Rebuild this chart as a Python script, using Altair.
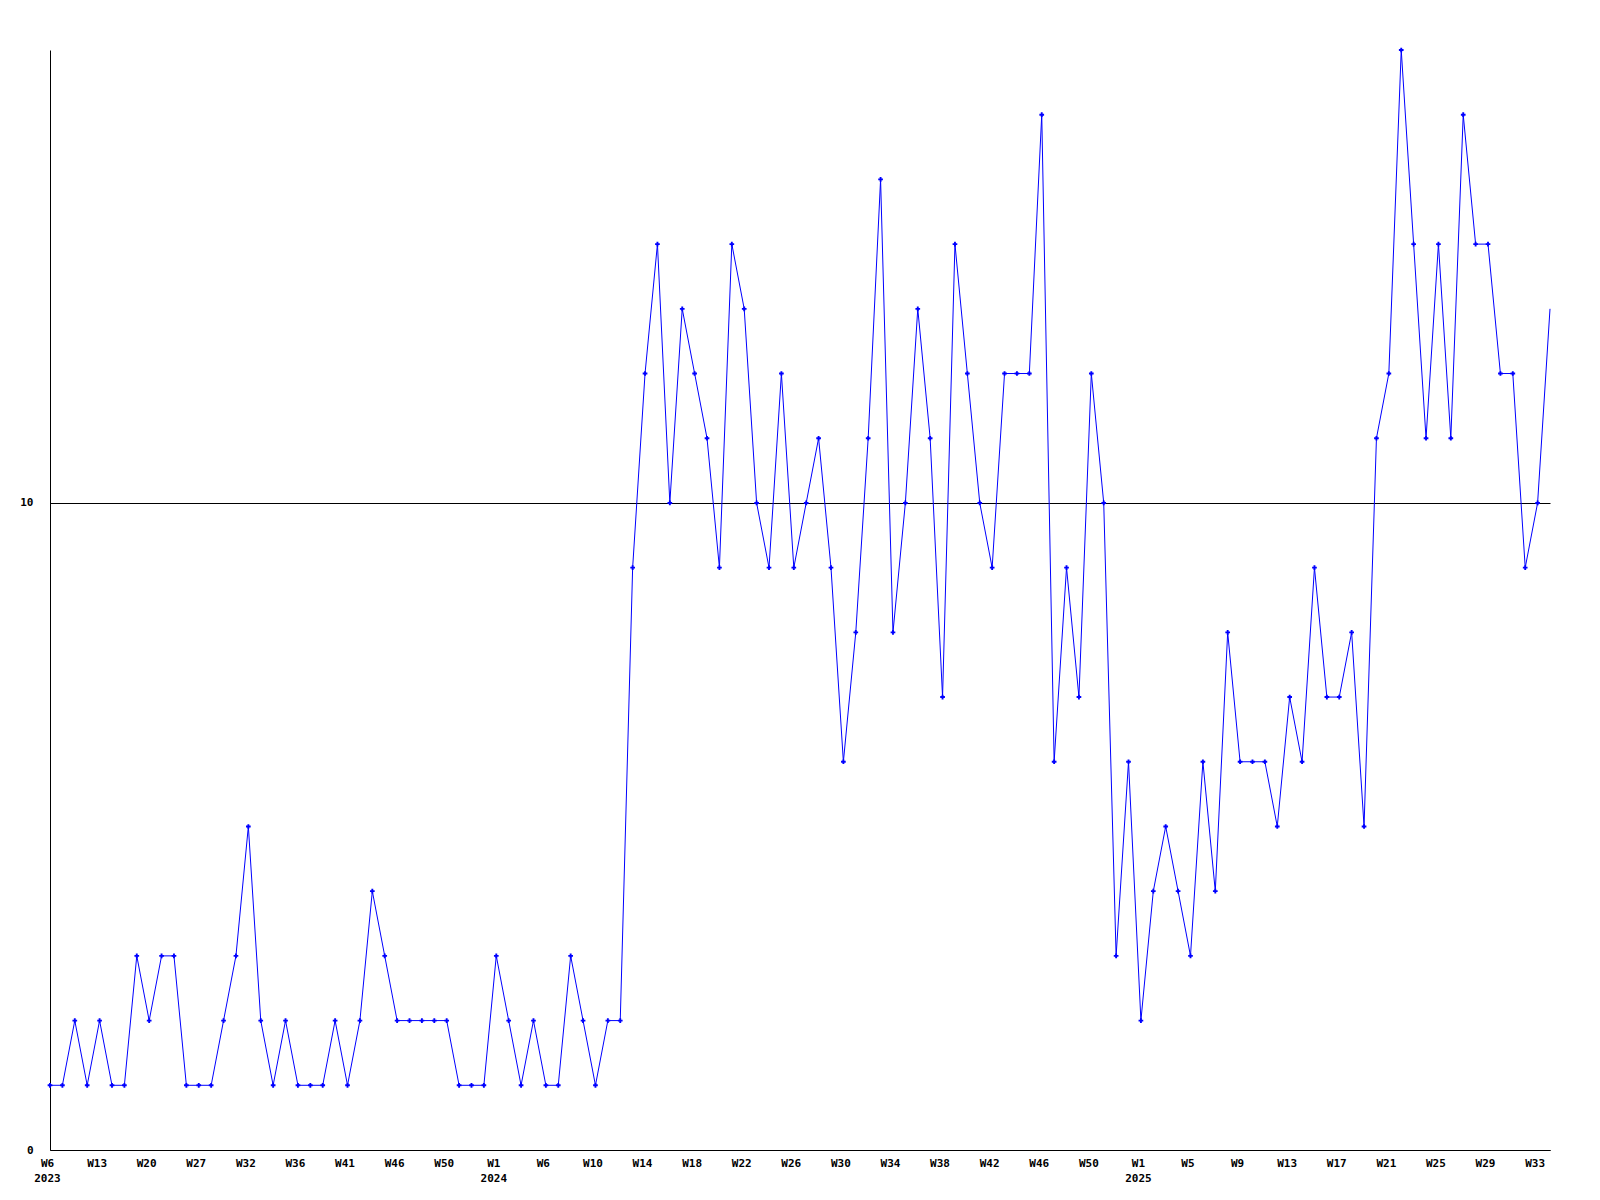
import json
import altair as alt
import pandas as pd

# Weekly values (one per data point, left to right)
values = [
    1, 1, 2, 1, 2, 1, 1, 3, 2, 3, 3, 1, 1, 1, 2, 3, 5, 2, 1, 2,
    1, 1, 1, 2, 1, 2, 4, 3, 2, 2, 2, 2, 2, 1, 1, 1, 3, 2, 1, 2,
    1, 1, 3, 2, 1, 2, 2, 9, 12, 14, 10, 13, 12, 11, 9, 14, 13, 10, 9, 12,
    9, 10, 11, 9, 6, 8, 11, 15, 8, 10, 13, 11, 7, 14, 12, 10, 9, 12, 12, 12,
    16, 6, 9, 7, 12, 10, 3, 6, 2, 4, 5, 4, 3, 6, 4, 8, 6, 6, 6, 5,
    7, 6, 9, 7, 7, 8, 5, 11, 12, 17, 14, 11, 14, 11, 16, 14, 14, 12, 12, 9,
    10, 13,
]
positions = list(range(len(values)))

# Tick labels, one every 4 data points
week_labels = ["W6", "W13", "W20", "W27", "W32", "W36", "W41", "W46", "W50",
               "W1", "W6", "W10", "W14", "W18", "W22", "W26", "W30", "W34",
               "W38", "W42", "W46", "W50",
               "W1", "W5", "W9", "W13", "W17", "W21", "W25", "W29", "W33"]
year_labels = ["2023", "", "", "", "", "", "", "", "",
               "2024", "", "", "", "", "", "", "", "",
               "", "", "", "",
               "2025", "", "", "", "", "", "", "", ""]
label_step = 4
y_ticks = [0, 10]

tick_values = [i * label_step for i in range(len(week_labels))]
label_list = [[w, y] if y else w for w, y in zip(week_labels, year_labels)]
label_expr = json.dumps(label_list) + "[round(datum.value / %d)]" % label_step

df = pd.DataFrame({"pos": positions, "value": values})

FONT = "DejaVu Sans Mono"

x_enc = alt.X(
    "pos:Q",
    scale=alt.Scale(domain=[0, len(values) - 1], nice=False, zero=False),
    axis=alt.Axis(
        values=tick_values, labelExpr=label_expr, title=None, grid=False,
        ticks=False, domainColor="black", domainWidth=1,
        labelFont=FONT, labelFontSize=11, labelFontWeight="bold",
        labelColor="black", labelPadding=7, labelOverlap=False,
        labelFlush=False, labelAlign="center", labelLineHeight=15,
        labelOffset=-3,
    ),
)
y_enc = alt.Y(
    "value:Q",
    scale=alt.Scale(domain=[0, 17], nice=False),
    axis=alt.Axis(
        values=y_ticks, title=None, grid=True, gridColor="black",
        gridOpacity=1, gridWidth=1, ticks=False, domainColor="black",
        domainWidth=1, labelFont=FONT, labelFontSize=11,
        labelFontWeight="bold", labelColor="black", labelPadding=17,
    ),
)

base = alt.Chart(df)
line = base.mark_line(color="#0000ff", strokeWidth=1).encode(x=x_enc, y=y_enc)
points = base.transform_filter(alt.datum.pos < len(values) - 1).mark_point(
    shape="cross", filled=True, size=22, color="#0000ff", opacity=1
).encode(x=x_enc, y=y_enc)

chart = (
    alt.layer(line, points)
    .properties(
        width=1500, height=1100,
        autosize=alt.AutoSizeParams(type="none"),
        padding={"left": 42, "top": 42, "right": 40, "bottom": 42},
        view=alt.ViewBackground(stroke="transparent", strokeWidth=0, strokeOpacity=0),
    )
    .configure_view(stroke="transparent", strokeWidth=0, strokeOpacity=0)
    .configure(background="white")
)

chart.save("out.html", embed_options={"renderer": "svg", "actions": False})
